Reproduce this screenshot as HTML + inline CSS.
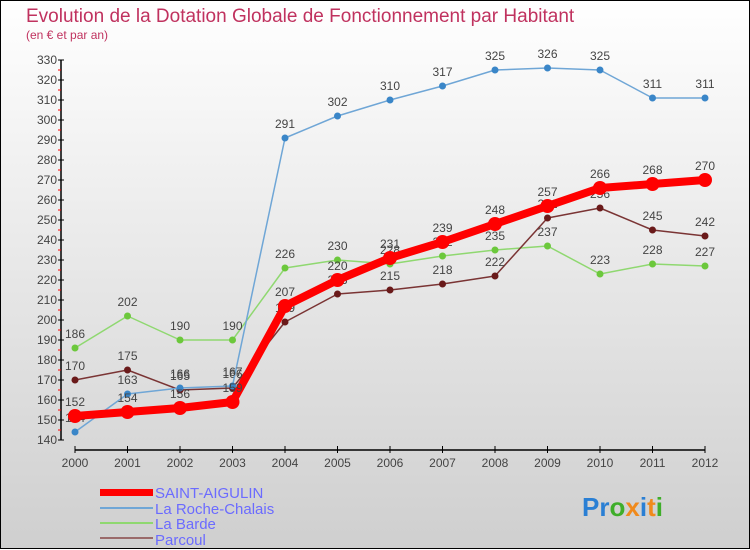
<!DOCTYPE html>
<html><head><meta charset="utf-8"><style>
body{margin:0;width:750px;height:550px;overflow:hidden;font-family:"Liberation Sans",sans-serif}
svg{display:block}
</style></head><body>
<svg id="c" width="750" height="550" xmlns="http://www.w3.org/2000/svg">
<defs><linearGradient id="bg" x1="0" y1="0" x2="0" y2="1"><stop offset="0" stop-color="#ffffff"/><stop offset="1" stop-color="#cfcfcf"/></linearGradient></defs>
<rect x="0.5" y="0.5" width="749" height="548" fill="url(#bg)" stroke="#000"/>
<text x="26" y="22" font-size="19" fill="#c0325f">Evolution de la Dotation Globale de Fonctionnement par Habitant</text>
<text x="26" y="39" font-size="12" fill="#c0325f">(en € et par an)</text>
<g id="axes"></g><g id="series"></g>
<g>
<rect x="100" y="489" width="53" height="7" fill="#ff0000"/>
<text x="155" y="498" font-size="15" fill="#6b6bff">SAINT-AIGULIN</text>
<rect x="100" y="507" width="53" height="2" fill="#6fa6d6"/>
<text x="155" y="514" font-size="15" fill="#6b6bff">La Roche-Chalais</text>
<rect x="100" y="522" width="53" height="2" fill="#8fd870"/>
<text x="155" y="529" font-size="15" fill="#6b6bff">La Barde</text>
<rect x="100" y="537" width="53" height="2" fill="#9a6a6a"/>
<text x="155" y="545" font-size="15" fill="#6b6bff">Parcoul</text>
</g>
<text x="582" y="516" font-size="26" font-weight="bold"><tspan fill="#2a7fd4">Pr</tspan><tspan fill="#3fae2a">o</tspan><tspan fill="#f08a1c">x</tspan><tspan fill="#2a7fd4">i</tspan><tspan fill="#f08a1c">t</tspan><tspan fill="#3fae2a">i</tspan></text>
</svg>
<script>
const years=[2000,2001,2002,2003,2004,2005,2006,2007,2008,2009,2010,2011,2012];
const saint=[152,154,156,159,207,220,231,239,248,257,266,268,270];
const roche=[144,163,166,167,291,302,310,317,325,326,325,311,311];
const barde=[186,202,190,190,226,230,228,232,235,237,223,228,227];
const parcoul=[170,175,165,166,199,213,215,218,222,251,256,245,242];
const yTicks=[140,150,160,170,180,190,200,210,220,230,240,250,260,270,280,290,300,310,320,330];
const NS="http://www.w3.org/2000/svg";
const X=i=>75+i*52.5, Y=v=>440-(v-140)*2;
function el(t,a,p){const e=document.createElementNS(NS,t);for(const k in a)e.setAttribute(k,a[k]);p.appendChild(e);return e;}
const ax=document.getElementById('axes');
let a=el('line',{x1:61,y1:Y(330),x2:61,y2:Y(140),stroke:'#000','stroke-width':1.5},ax);

a=el('line',{x1:X(0),y1:450,x2:X(12),y2:450,stroke:'#000','stroke-width':1.5},ax);

yTicks.forEach((v,i)=>{
 el('line',{x1:58,y1:Y(v),x2:64,y2:Y(v),stroke:'#000'},ax);
 if(i<yTicks.length-1)el('line',{x1:58,y1:Y(v+5),x2:61,y2:Y(v+5),stroke:'#f00'},ax);
 const t=el('text',{x:57,y:Y(v)+4,'font-size':12,fill:'#444','text-anchor':'end'},ax);t.textContent=v;
 
});
years.forEach((y,i)=>{
 el('line',{x1:X(i),y1:446,x2:X(i),y2:453,stroke:'#000'},ax);
 const t=el('text',{x:X(i),y:467,'font-size':12,fill:'#444','text-anchor':'middle'},ax);t.textContent=y;
 
});
const sg=document.getElementById('series');
function series(vals,color,dot,w,r,name){
 const g=el('g',{},sg);
 el('polyline',{points:vals.map((v,i)=>X(i)+','+Y(v)).join(' '),fill:'none',stroke:color,'stroke-width':w,'stroke-linejoin':'round'},g);
 vals.forEach((v,i)=>{
  const c=el('circle',{cx:X(i),cy:Y(v),r:r,fill:dot},g);
  
  const t=el('text',{x:X(i),y:Y(v)-10,'font-size':12,fill:'#444','text-anchor':'middle'},g);t.textContent=v;
  
 });
}
series(barde,'#8fd870','#6cc83c',1.5,3.5,'barde');
series(parcoul,'#7a3434','#6a1a1a',1.5,3.5,'parcoul');
series(roche,'#6fa6d6','#3a86c8',1.5,3.5,'roche');
series(saint,'#ff0000','#ff0000',8,7,'saint-aigulin');
</script>
</body></html>
